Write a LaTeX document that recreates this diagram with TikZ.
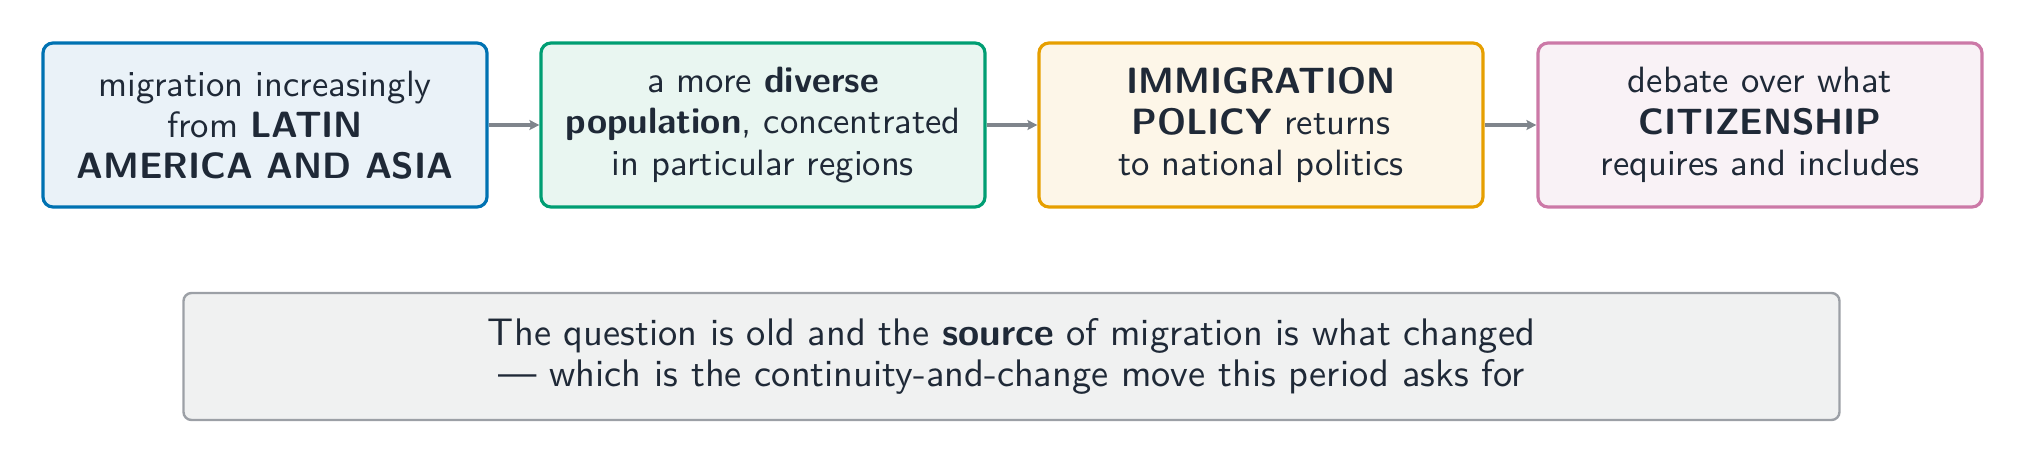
\documentclass[tikz,border=0pt]{standalone}
\usepackage{fontspec}
\setsansfont{lmsans10-regular}[Extension=.otf, BoldFont=lmsans10-bold]
\usetikzlibrary{arrows.meta}
\definecolor{txt}{HTML}{1F2937}
\definecolor{bA}{HTML}{0072B2}\definecolor{fA}{HTML}{EAF2F8}
\definecolor{bB}{HTML}{009E73}\definecolor{fB}{HTML}{E9F6F1}
\definecolor{bC}{HTML}{E69F00}\definecolor{fC}{HTML}{FDF6E8}
\definecolor{bD}{HTML}{CC79A7}\definecolor{fD}{HTML}{F9F2F6}
\definecolor{bE}{HTML}{9CA0A6}\definecolor{fE}{HTML}{F0F1F1}
\definecolor{arr}{HTML}{7F858C}
\tikzset{
  stagebox/.style={draw, line width=1.6pt, rounded corners=5pt, minimum width=222pt, minimum height=82pt,
    align=center, text=txt, font=\sffamily\fontsize{18.3}{20.6}\selectfont, inner sep=0pt},
  notebox/.style={draw=bE, fill=fE, line width=1.2pt, rounded corners=4pt, minimum width=828pt, minimum height=63.5pt,
    align=center, text=txt, font=\sffamily\fontsize{19.2}{20.9}\selectfont, inner sep=0pt},
  flow/.style={draw=arr, line width=2pt, -{Stealth[length=5pt,width=5pt,inset=1pt]}}
}
\begin{document}
\begin{tikzpicture}[x=1pt,y=1pt]
\useasboundingbox (0,0) rectangle (1013,-231.5);
\node[stagebox, draw=bA, fill=fA] (a) at (132.5,-62.5) {migration increasingly\\ from \textbf{LATIN}\\ \textbf{AMERICA AND ASIA}};
\node[stagebox, draw=bB, fill=fB] (b) at (381.5,-62.5) {a more \textbf{diverse}\\ \textbf{population}, concentrated\\ in particular regions};
\node[stagebox, draw=bC, fill=fC] (c) at (630.5,-62.5) {\textbf{IMMIGRATION}\\ \textbf{POLICY} returns\\ to national politics};
\node[stagebox, draw=bD, fill=fD] (d) at (880,-62.5) {debate over what\\ \textbf{CITIZENSHIP}\\ requires and includes};
\node[notebox] (e) at (505.75,-178.25) {The question is old and the \textbf{source} of migration is what changed\\ — which is the continuity-and-change move this period asks for};
\draw[flow] (a) -- (b);
\draw[flow] (b) -- (c);
\draw[flow] (c) -- (d);
\end{tikzpicture}
\end{document}
